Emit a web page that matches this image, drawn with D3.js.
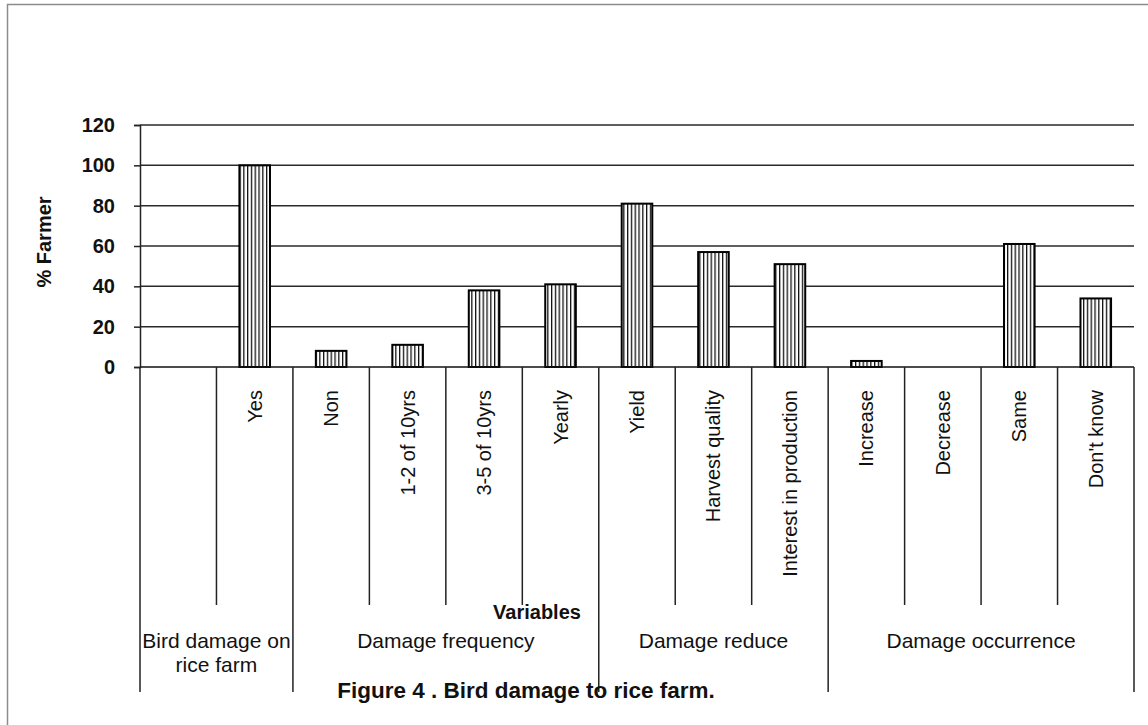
<!DOCTYPE html>
<html>
<head>
<meta charset="utf-8">
<script src="https://cdn.jsdelivr.net/npm/d3@7"></script>
<style>
  html, body { margin: 0; padding: 0; background: #fff; }
  svg { display: block; }
  text { font-family: "Liberation Sans", Arial, sans-serif; fill: #111; }
</style>
</head>
<body>
<svg id="chart" width="1148" height="725"></svg>
<script>
// Categories along the x axis (first slot of the first group is left blank)
const categories = ["", "Yes", "Non", "1-2 of 10yrs", "3-5 of 10yrs", "Yearly",
  "Yield", "Harvest quality", "Interest in production",
  "Increase", "Decrease", "Same", "Don't know"];
// % of farmers for each category
const values = [null, 100, 8, 11, 38, 41, 81, 57, 51, 3, 0, 61, 34];
// Category groups: label lines and number of categories in each
const groupLabels = [["Bird damage on", "rice farm"], ["Damage frequency"], ["Damage reduce"], ["Damage occurrence"]];
const groupSizes = [2, 4, 3, 4];
const yTicks = [0, 20, 40, 60, 80, 100, 120];

const svg = d3.select("#chart");
const plotLeft = 140, plotRight = 1134, plotTop = 125, plotBase = 367;

// outer frame
svg.append("rect")
  .attr("x", 7.5).attr("y", 4.5).attr("width", 1160).attr("height", 740)
  .attr("fill", "none").attr("stroke", "#8c8c8c").attr("stroke-width", 1.5);

// hatch pattern for the bars
const defs = svg.append("defs");
const pat = defs.append("pattern")
  .attr("id", "vhatch").attr("patternUnits", "userSpaceOnUse")
  .attr("width", 3.8).attr("height", 10);
pat.append("rect").attr("width", 3.8).attr("height", 10).attr("fill", "#fff");
pat.append("rect").attr("x", 0).attr("width", 1.3).attr("height", 10).attr("fill", "#111");

const idx = categories.map((d, i) => i);
const x = d3.scaleBand().domain(idx).range([plotLeft, plotRight]).paddingInner(0.6).paddingOuter(0.3);
const step = x.step();
const y = d3.scaleLinear().domain([0, 120]).range([plotBase, plotTop]);

// horizontal gridlines
svg.append("g").selectAll("line")
  .data(yTicks.filter(t => t > 0))
  .join("line")
  .attr("x1", plotLeft).attr("x2", plotRight)
  .attr("y1", d => y(d)).attr("y2", d => y(d))
  .attr("stroke", "#2a2a2a").attr("stroke-width", 1.5);

// y axis
const yAxis = svg.append("g")
  .attr("transform", `translate(${plotLeft},0)`)
  .call(d3.axisLeft(y).tickValues(yTicks).tickSize(6).tickPadding(19));
yAxis.select(".domain").attr("stroke", "#222").attr("stroke-width", 1.5);
yAxis.selectAll(".tick line").attr("stroke", "#222").attr("stroke-width", 1.5);
yAxis.selectAll(".tick text")
  .attr("font-size", 20).attr("font-weight", "bold")
  .style("font-family", "'Liberation Sans', Arial, sans-serif").attr("fill", "#111");

// bars
svg.append("g").selectAll("rect")
  .data(idx.filter(i => values[i] !== null))
  .join("rect")
  .attr("x", i => x(i))
  .attr("y", i => y(values[i]))
  .attr("width", x.bandwidth())
  .attr("height", i => y(0) - y(values[i]))
  .attr("fill", "url(#vhatch)")
  .attr("stroke", "#000").attr("stroke-width", 2)
  .attr("display", i => values[i] > 0 ? null : "none");

// baseline
svg.append("line")
  .attr("x1", plotLeft).attr("x2", plotRight).attr("y1", y(0)).attr("y2", y(0))
  .attr("stroke", "#111").attr("stroke-width", 1.5);

// category separators and group separators below the axis
const groupBounds = [0];
groupSizes.forEach(s => groupBounds.push(groupBounds[groupBounds.length - 1] + s));
const catBounds = d3.range(categories.length + 1);
svg.append("g").selectAll("line")
  .data(catBounds)
  .join("line")
  .attr("x1", i => plotLeft + i * step).attr("x2", i => plotLeft + i * step)
  .attr("y1", plotBase)
  .attr("y2", i => groupBounds.includes(i) ? 692 : 605)
  .attr("stroke", "#222").attr("stroke-width", 1.5);

// category labels, rotated
svg.append("g").selectAll("text")
  .data(idx)
  .join("text")
  .attr("transform", i => `translate(${x(i) + x.bandwidth() / 2},390) rotate(-90)`)
  .attr("text-anchor", "end")
  .attr("dominant-baseline", "central")
  .attr("font-size", 20)
  .text(i => categories[i]);

// group labels
groupLabels.forEach((lines, g) => {
  const cx = plotLeft + (groupBounds[g] + groupBounds[g + 1]) / 2 * step;
  const t = svg.append("text")
    .attr("x", cx).attr("y", 648)
    .attr("text-anchor", "middle").attr("font-size", 21);
  lines.forEach((ln, k) => {
    t.append("tspan").attr("x", cx).attr("dy", k === 0 ? 0 : 24).text(ln);
  });
});

// axis titles
svg.append("text")
  .attr("x", 537).attr("y", 619)
  .attr("text-anchor", "middle").attr("font-size", 20).attr("font-weight", "bold")
  .text("Variables");

svg.append("text")
  .attr("transform", "translate(44,242) rotate(-90)")
  .attr("text-anchor", "middle").attr("dominant-baseline", "central")
  .attr("font-size", 20).attr("font-weight", "bold")
  .text("% Farmer");

// caption
svg.append("text")
  .attr("x", 526).attr("y", 698)
  .attr("text-anchor", "middle").attr("font-size", 22.5).attr("font-weight", "bold")
  .text("Figure 4 . Bird damage to rice farm.");
</script>
</body>
</html>
